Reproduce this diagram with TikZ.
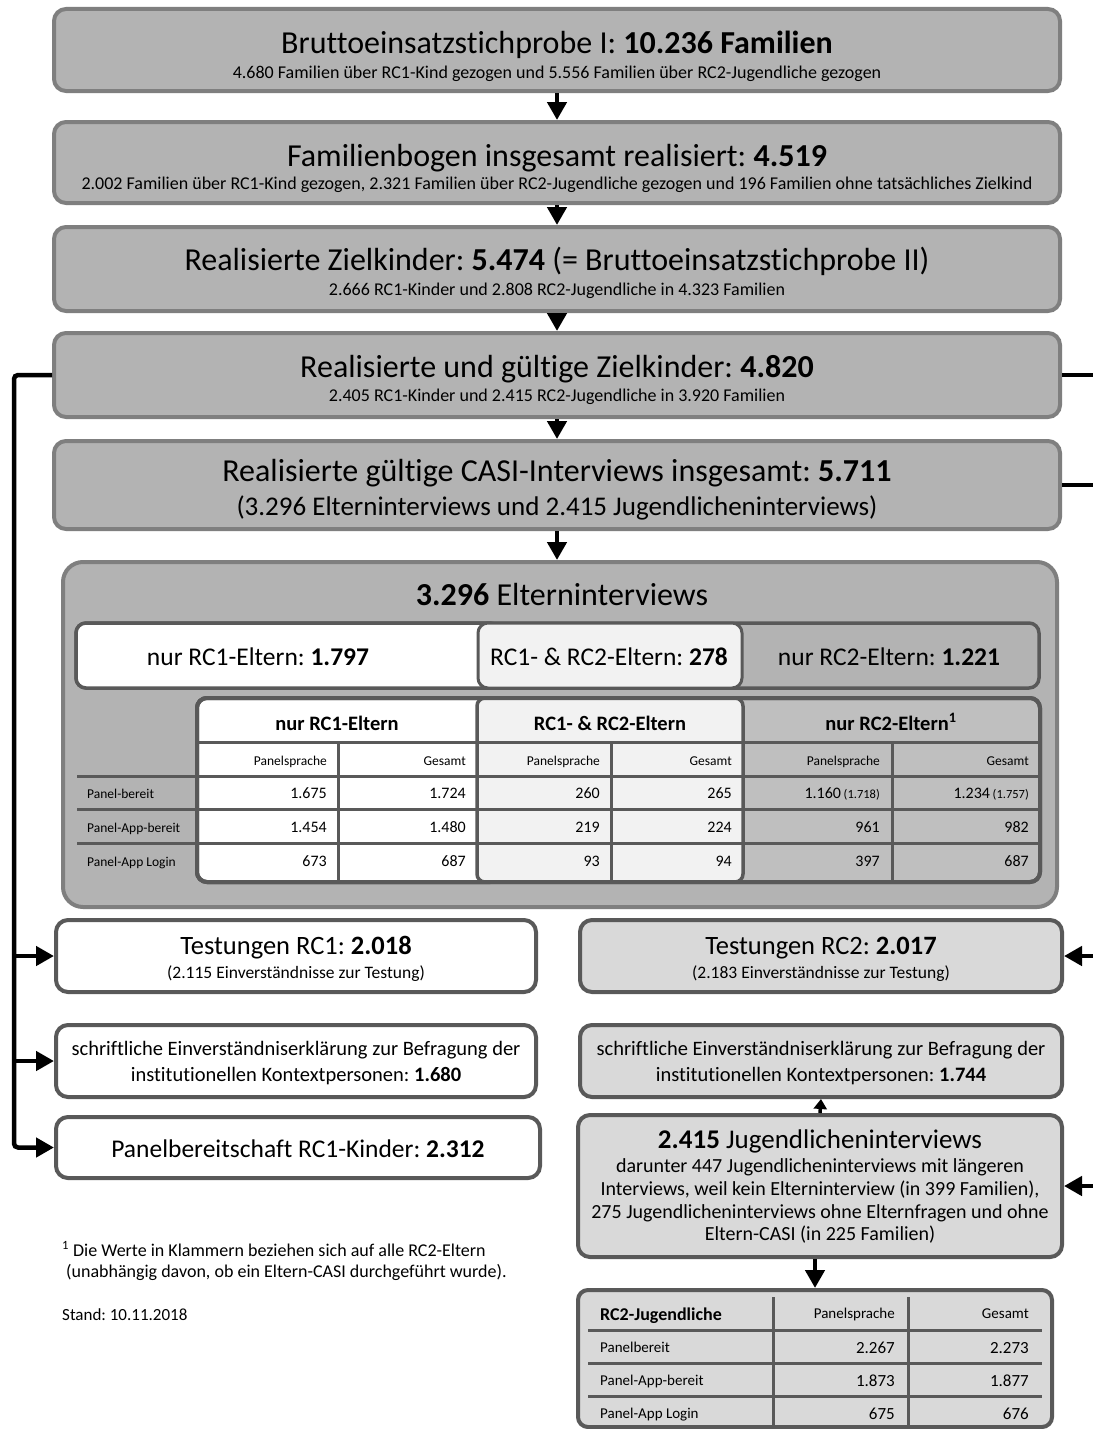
\documentclass[tikz,border=0pt]{standalone}
\usepackage{fontspec}
\setmainfont{Carlito}[Ligatures={NoCommon,NoContextual}]
\usetikzlibrary{arrows.meta}
\definecolor{boxgrey}{HTML}{B3B3B3}
\definecolor{bordgrey}{HTML}{7F7F7F}
\definecolor{darkbord}{HTML}{595959}
\definecolor{lightbox}{HTML}{D9D9D9}
\definecolor{palegrey}{HTML}{F2F2F2}
\definecolor{secgrey}{HTML}{BFBFBF}
\newcommand\fsz[1]{\fontsize{#1}{#1}\selectfont}
\frenchspacing
\begin{document}
\begin{tikzpicture}[x=1pt,y=-1pt,
 topbox/.style={draw=bordgrey,line width=4pt,fill=boxgrey,rounded corners=12pt,inner sep=0pt},
 lowwhite/.style={draw=darkbord,line width=4pt,fill=white,rounded corners=12pt,inner sep=0pt},
 lowgrey/.style={lowwhite,fill=lightbox},
 txt/.style={anchor=base,inner sep=0pt},
 ltxt/.style={anchor=base west,inner sep=0pt},
 rtxt/.style={anchor=base east,inner sep=0pt},
 arr/.style={line width=4.5pt,-{Triangle[length=18pt,width=19pt]}},
 tline/.style={draw=darkbord,line width=3pt},
]
\useasboundingbox (0,0) rectangle (1092,1429);
\fill[white] (0,0) rectangle (1092,1429);

% ---------- top boxes ----------
\node[topbox,minimum width=1006pt,minimum height=82pt] (b1) at (557,50) {};
\node[txt] (b1t) at (557,54) {\fsz{32}Bruttoeinsatzstichprobe I: \textbf{10.236 Familien}};
\node[txt] (b1s) at (557,78) {\fsz{18}4.680 Familien über RC1-Kind gezogen und 5.556 Familien über RC2-Jugendliche gezogen};

\node[topbox,minimum width=1006pt,minimum height=81pt] (b2) at (557,162.5) {};
\node[txt] (b2t) at (557,166) {\fsz{32}Familienbogen insgesamt realisiert: \textbf{4.519}};
\node[txt] (b2s) at (557,189) {\fsz{18}2.002 Familien über RC1-Kind gezogen, 2.321 Familien über RC2-Jugendliche gezogen und 196 Familien ohne tatsächliches Zielkind};

\node[topbox,minimum width=1006pt,minimum height=84pt] (b3) at (557,269) {};
\node[txt] (b3t) at (557,270) {\fsz{32}Realisierte Zielkinder: \textbf{5.474} (= Bruttoeinsatzstichprobe II)};
\node[txt] (b3s) at (557,295) {\fsz{18}2.666 RC1-Kinder und 2.808 RC2-Jugendliche in 4.323 Familien};

\node[topbox,minimum width=1006pt,minimum height=84pt] (b4) at (557,375) {};
\node[txt] (b4t) at (557,377) {\fsz{32}Realisierte und gültige Zielkinder: \textbf{4.820}};
\node[txt] (b4s) at (557,401) {\fsz{18}2.405 RC1-Kinder und 2.415 RC2-Jugendliche in 3.920 Familien};

\node[topbox,minimum width=1006pt,minimum height=88pt] (b5) at (557,485) {};
\node[txt] (b5t) at (557,481) {\fsz{32}Realisierte gültige CASI-Interviews insgesamt: \textbf{5.711}};
\node[txt] (b5s) at (557,515) {\fsz{27}(3.296 Elterninterviews und 2.415 Jugendlicheninterviews)};

\draw[arr] (b1.south) -- (b2.north);
\draw[arr] (b2.south) -- (b3.north);
\draw[arr] (b3.south) -- (b4.north);
\draw[arr] (b4.south) -- (b5.north);

% ---------- Elterninterviews container ----------
\node[topbox,rounded corners=20pt,minimum width=994pt,minimum height=345pt] (ei) at (560,734.5) {};
\draw[arr] (b5.south) -- (b5.south |- ei.north);
\node[txt] (eit) at (562,605) {\fsz{32}\textbf{3.296} Elterninterviews};

% three-part bar
\draw[darkbord,line width=3.5pt,fill=boxgrey,rounded corners=10pt] (76,623) rectangle (1039,688);
\draw[darkbord,line width=3.5pt,fill=white,rounded corners=10pt] (76,623) rectangle (500,688);
\draw[darkbord,line width=3pt,fill=palegrey,rounded corners=10pt] (478,623) rectangle (742,688);
\node[txt] (bar1) at (258,665) {\fsz{25.5}nur RC1-Eltern: \textbf{1.797}};
\node[txt] (bar2) at (609,665) {\fsz{25.5}RC1- \& RC2-Eltern: \textbf{278}};
\node[txt] (bar3) at (889,665) {\fsz{25.5}nur RC2-Eltern: \textbf{1.221}};

% Eltern table
\draw[darkbord,line width=4pt,fill=secgrey,rounded corners=10pt] (197,698) rectangle (1040,882);
\draw[darkbord,line width=4pt,fill=white,rounded corners=10pt] (197,698) rectangle (500,882);
\draw[darkbord,line width=3.5pt,fill=palegrey,rounded corners=8pt] (477,698) rectangle (743,882);
\draw[tline] (197,742) -- (1040,742);
\foreach \yy in {776,809,843} \draw[tline] (77,\yy) -- (1040,\yy);
\foreach \xx in {338,611,892} \draw[tline] (\xx,742) -- (\xx,882);
\draw[darkbord,line width=4pt,rounded corners=10pt] (197,698) rectangle (1040,882);

\node[txt] (h1) at (337,730) {\fsz{20.5}\textbf{nur RC1-Eltern}};
\node[txt] (h2) at (610,730) {\fsz{20.5}\textbf{RC1- \& RC2-Eltern}};
\node[txt] (h3) at (891,730) {\fsz{20.5}\textbf{nur RC2-Eltern\textsuperscript{1}}};
\node[rtxt] (sh1) at (327,765) {\fsz{13.5}Panelsprache};
\node[rtxt] (sh2) at (466,765) {\fsz{13.5}Gesamt};
\node[rtxt] (sh3) at (600,765) {\fsz{13.5}Panelsprache};
\node[rtxt] (sh4) at (732,765) {\fsz{13.5}Gesamt};
\node[rtxt] (sh5) at (880,765) {\fsz{13.5}Panelsprache};
\node[rtxt] (sh6) at (1029,765) {\fsz{13.5}Gesamt};

\node[ltxt] (rl1) at (87,798) {\fsz{13.5}Panel-bereit};
\node[ltxt] (rl2) at (87,832) {\fsz{13.5}Panel-App-bereit};
\node[ltxt] (rl3) at (87,866) {\fsz{13.5}Panel-App Login};

\node[rtxt] (c11) at (327,798) {\fsz{16}1.675};
\node[rtxt] (c12) at (466,798) {\fsz{16}1.724};
\node[rtxt] (c13) at (600,798) {\fsz{16}260};
\node[rtxt] (c14) at (732,798) {\fsz{16}265};
\node[rtxt] (c15) at (880,798) {\fsz{16}1.160\,{\fsz{12.5}(1.718)}};
\node[rtxt] (c16) at (1029,798) {\fsz{16}1.234\,{\fsz{12.5}(1.757)}};

\node[rtxt] (c21) at (327,832) {\fsz{16}1.454};
\node[rtxt] (c22) at (466,832) {\fsz{16}1.480};
\node[rtxt] (c23) at (600,832) {\fsz{16}219};
\node[rtxt] (c24) at (732,832) {\fsz{16}224};
\node[rtxt] (c25) at (880,832) {\fsz{16}961};
\node[rtxt] (c26) at (1029,832) {\fsz{16}982};

\node[rtxt] (c31) at (327,866) {\fsz{16}673};
\node[rtxt] (c32) at (466,866) {\fsz{16}687};
\node[rtxt] (c33) at (600,866) {\fsz{16}93};
\node[rtxt] (c34) at (732,866) {\fsz{16}94};
\node[rtxt] (c35) at (880,866) {\fsz{16}397};
\node[rtxt] (c36) at (1029,866) {\fsz{16}687};

% ---------- lower boxes ----------
\node[lowwhite,minimum width=480pt,minimum height=72pt] (t1) at (296,956) {};
\node[txt] (t1t) at (296,954) {\fsz{26.5}Testungen RC1: \textbf{2.018}};
\node[txt] (t1s) at (296,978) {\fsz{17.5}(2.115 Einverständnisse zur Testung)};

\node[lowgrey,minimum width=482pt,minimum height=72pt] (t2) at (821,956) {};
\node[txt] (t2t) at (821,954) {\fsz{26.5}Testungen RC2: \textbf{2.017}};
\node[txt] (t2s) at (821,978) {\fsz{17.5}(2.183 Einverständnisse zur Testung)};

\node[lowwhite,minimum width=480pt,minimum height=72pt] (s1) at (296,1061) {};
\node[txt] (s1a) at (296,1055) {\fsz{20.5}schriftliche Einverständniserklärung zur Befragung der};
\node[txt] (s1b) at (296,1081) {\fsz{20.5}institutionellen Kontextpersonen: \textbf{1.680}};

\node[lowgrey,minimum width=482pt,minimum height=72pt] (s2) at (821,1061) {};
\node[txt] (s2a) at (821,1055) {\fsz{20.5}schriftliche Einverständniserklärung zur Befragung der};
\node[txt] (s2b) at (821,1081) {\fsz{20.5}institutionellen Kontextpersonen: \textbf{1.744}};

\node[lowwhite,minimum width=484pt,minimum height=61pt] (pb) at (298,1147.5) {};
\node[txt] (pbt) at (298,1157) {\fsz{25.5}Panelbereitschaft RC1-Kinder: \textbf{2.312}};

\node[lowgrey,minimum width=484pt,minimum height=142pt] (jg) at (820,1186) {};
\node[txt] (jgt) at (820,1148) {\fsz{27}\textbf{2.415} Jugendlicheninterviews};
\node[txt] (jg1) at (820,1172) {\fsz{20}darunter 447 Jugendlicheninterviews mit längeren};
\node[txt] (jg2) at (820,1195) {\fsz{20}Interviews, weil kein Elterninterview (in 399 Familien),};
\node[txt] (jg3) at (820,1218) {\fsz{20}275 Jugendlicheninterviews ohne Elternfragen und ohne};
\node[txt] (jg4) at (820,1240) {\fsz{20}Eltern-CASI (in 225 Familien)};

% Jugend table
\node[lowgrey,rounded corners=10pt,minimum width=474pt,minimum height=137pt] (jt) at (815,1358.5) {};
\draw[tline] (773,1297) -- (773,1427);
\draw[tline] (908,1297) -- (908,1427);
\foreach \yy in {1330,1363,1396} \draw[tline] (588,\yy) -- (1042,\yy);
\node[ltxt] (jh0) at (600,1320) {\fsz{18}\textbf{RC2-Jugendliche}};
\node[rtxt] (jh1) at (895,1318) {\fsz{15}Panelsprache};
\node[rtxt] (jh2) at (1029,1318) {\fsz{15}Gesamt};
\node[ltxt] (jr1) at (600,1352) {\fsz{15}Panelbereit};
\node[ltxt] (jr2) at (600,1385) {\fsz{15}Panel-App-bereit};
\node[ltxt] (jr3) at (600,1418) {\fsz{15}Panel-App Login};
\node[rtxt] (jv11) at (895,1353) {\fsz{17}2.267};
\node[rtxt] (jv12) at (1029,1353) {\fsz{17}2.273};
\node[rtxt] (jv21) at (895,1386) {\fsz{17}1.873};
\node[rtxt] (jv22) at (1029,1386) {\fsz{17}1.877};
\node[rtxt] (jv31) at (895,1419) {\fsz{17}675};
\node[rtxt] (jv32) at (1029,1419) {\fsz{17}676};

% ---------- connectors ----------
\coordinate (lt) at (14,1147.5);
\coordinate (rx) at (1100,0);
\draw[arr,rounded corners=4pt] (b4.west) -| (lt) -- (pb.west);
\draw[arr] (t1.west -| lt) -- (t1.west);
\draw[arr] (s1.west -| lt) -- (s1.west);
\draw[line width=4.5pt] (b4.east) -- (b4.east -| rx);
\draw[line width=4.5pt] (b5.east) -- (b5.east -| rx);
\draw[arr] (t2.east -| rx) -- (t2.east);
\draw[arr] (jg.east -| rx) -- (jg.east);
\draw[line width=3.5pt,-{Triangle[length=10pt,width=13pt]}] (jg.north) -- (s2.south);
\draw[arr] (jg.south -| jt.north) -- (jt.north);

% ---------- footnote ----------
\node[ltxt] (fn1) at (62,1256) {\fsz{18}\textsuperscript{1} Die Werte in Klammern beziehen sich auf alle RC2-Eltern};
\node[ltxt] (fn2) at (66,1277) {\fsz{18}(unabhängig davon, ob ein Eltern-CASI durchgeführt wurde).};
\node[ltxt] (stand) at (62,1320) {\fsz{17}Stand: 10.11.2018};
\end{tikzpicture}
\end{document}
